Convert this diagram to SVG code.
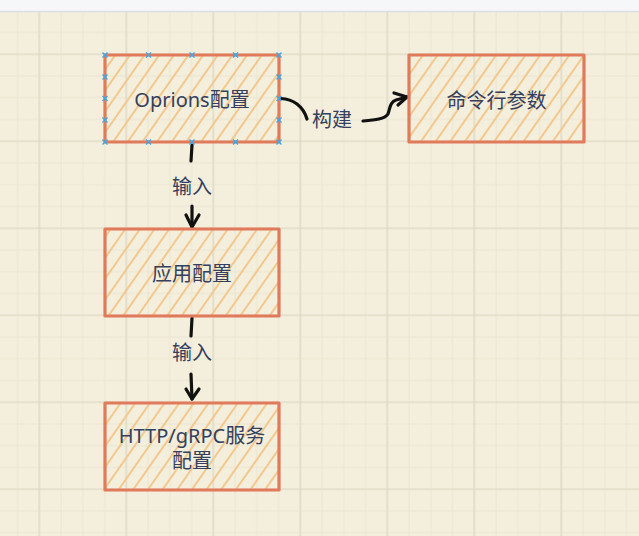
<svg xmlns="http://www.w3.org/2000/svg" width="639" height="536" viewBox="0 0 639 536">
<defs>
<pattern id="minor" patternUnits="userSpaceOnUse" x="7.55" y="0.8" width="21.75" height="21.75">
<path d="M10,0 V21.75 M0,10 H21.75" stroke="#e9e5d1" stroke-width="1" fill="none"/>
</pattern>
<pattern id="major" patternUnits="userSpaceOnUse" x="-0.7" y="14.3" width="87" height="87">
<path d="M40,0 V87 M0,40 H87" stroke="#dcd8c3" stroke-width="1.2" fill="none"/>
</pattern>
<pattern id="hatch" patternUnits="userSpaceOnUse" width="12" height="12" patternTransform="rotate(35)">
<path d="M6,-1 V13" stroke="#f4c68a" stroke-width="1.9" fill="none"/>
</pattern>
<g id="handle"><path d="M-2.5,-2.5 L2.5,2.5 M-2.5,2.5 L2.5,-2.5" stroke="#3aa8e8" stroke-width="1.4"/></g>
</defs>
<style>
.box{fill:url(#hatch);stroke:#e17a5b;stroke-width:3.2;stroke-linejoin:round}
.lbl{font-family:"Noto Sans","Noto Sans CJK SC",sans-serif;font-size:20px;fill:#34405e;text-anchor:middle;dominant-baseline:central}
.conn{fill:none;stroke:#111;stroke-width:3.2;stroke-linecap:round;stroke-linejoin:round}
</style>
<rect width="639" height="536" fill="#f3efdc"/>
<rect width="639" height="536" fill="url(#minor)"/>
<rect width="639" height="536" fill="url(#major)"/>
<rect width="639" height="11" fill="#f6f7f9"/>
<line x1="0" y1="11.5" x2="639" y2="11.5" stroke="#dcdde3" stroke-width="1.5"/>

<g id="connectors">
<path class="conn" d="M281,98.5 C293,99 303,106 307,119"/>
<path class="conn" d="M363,121 C375,120 385,119 388,114 C390,108 390,102 396,100 L407,97"/>
<path class="conn" d="M394,93 L407,97 L398,105"/>
<path class="conn" d="M192,145 L191,161"/>
<path class="conn" d="M192,206 L192,227"/>
<path class="conn" d="M186,215 L192,227 L199,215"/>
<path class="conn" d="M192,318 L191,336"/>
<path class="conn" d="M191,374 L192,399"/>
<path class="conn" d="M186,389 L192,399 L199,389"/>
<text class="lbl" x="332" y="119">构建</text>
<text class="lbl" x="192" y="186">输入</text>
<text class="lbl" x="192" y="352">输入</text>
</g>

<g id="node-options">
<rect class="box" x="105" y="55" width="174" height="87"/>
<text class="lbl" x="192" y="99">Oprions配置</text>
<use href="#handle" x="105" y="55"/><use href="#handle" x="148.5" y="55"/><use href="#handle" x="192" y="55"/><use href="#handle" x="235.5" y="55"/><use href="#handle" x="279" y="55"/>
<use href="#handle" x="105" y="142"/><use href="#handle" x="148.5" y="142"/><use href="#handle" x="192" y="142"/><use href="#handle" x="235.5" y="142"/><use href="#handle" x="279" y="142"/>
<use href="#handle" x="105" y="77"/><use href="#handle" x="105" y="98.5"/><use href="#handle" x="105" y="120"/>
<use href="#handle" x="279" y="77"/><use href="#handle" x="279" y="98.5"/><use href="#handle" x="279" y="120"/>
</g>

<g id="node-cli">
<rect class="box" x="409" y="55" width="175" height="87"/>
<text class="lbl" x="496.5" y="100">命令行参数</text>
</g>

<g id="node-app">
<rect class="box" x="105" y="229" width="174" height="87"/>
<text class="lbl" x="192" y="273">应用配置</text>
</g>

<g id="node-http">
<rect class="box" x="105" y="403" width="174" height="87"/>
<text class="lbl" x="192" y="435">HTTP/gRPC服务</text>
<text class="lbl" x="192" y="460">配置</text>
</g>
</svg>
